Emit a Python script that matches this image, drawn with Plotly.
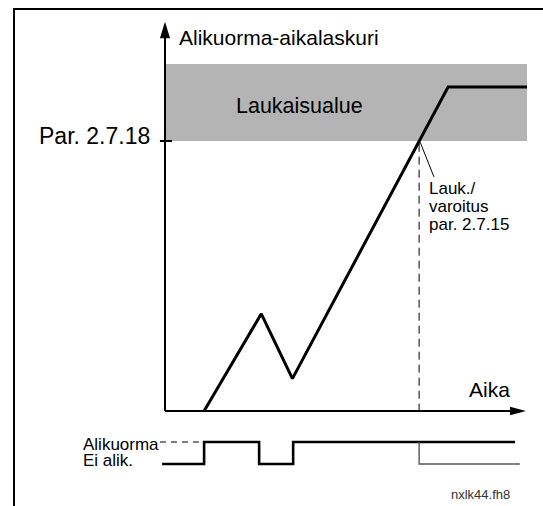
import plotly.graph_objects as go

# ---- data (semantic units: time 0..100, counter 0..~140, signal 0/1) ----
counter_time = [10.8, 26.6, 35.2, 78.2, 100.0]
counter_value = [0, 36, 12, 120, 120]
trip_level = 100          # Par. 2.7.18
band_top = 128.5          # top of trip area
trip_time = 70.2          # point where counter reaches trip level

signal_time = [-0.8, 10.8, 26.0, 35.4, 96.7]
signal_value = [0, 1, 0, 1, 1]
after_trip_time = [70.2, 98.0]
after_trip_value = [1, 0]
dashed_high_time = [-1.4, 10.8]
dashed_high_value = [1, 1]

W, H = 543, 506
FONT = "Liberation Sans, Arial, sans-serif"

# pixel mapping for layout (axis ranges)
X0PX, XSCALE = 165.0, 3.62     # t=0 at px 165, px per unit
Y0PX, YSCALE = 411.0, 2.70     # counter 0 at px 411
S0PX, SSCALE = 464.0, 22.0     # signal 0 at px 464

xr = [-X0PX / XSCALE, (W - X0PX) / XSCALE]
yr = [-(H - Y0PX) / YSCALE, Y0PX / YSCALE]
y2r = [-(H - S0PX) / SSCALE, S0PX / SSCALE]


def px(x):
    return x / W


def py(y):
    return 1 - y / H


fig = go.Figure()

# counter line
fig.add_trace(go.Scatter(x=counter_time, y=counter_value, mode="lines",
                         line=dict(color="black", width=3), hoverinfo="skip"))

# signal lines
fig.add_trace(go.Scatter(x=signal_time, y=signal_value, mode="lines", yaxis="y2",
                         line=dict(color="black", width=2.6, shape="hv"), hoverinfo="skip"))
fig.add_trace(go.Scatter(x=after_trip_time, y=after_trip_value, mode="lines", yaxis="y2",
                         line=dict(color="#555555", width=1.4, shape="vh"), hoverinfo="skip"))
fig.add_trace(go.Scatter(x=dashed_high_time, y=dashed_high_value, mode="lines", yaxis="y2",
                         line=dict(color="black", width=1, dash="6px,5px"), hoverinfo="skip"))

shapes = []
# trip area band
shapes.append(dict(type="rect", xref="x", yref="y", x0=0, x1=100, y0=trip_level, y1=band_top,
                   fillcolor="#b4b4b4", line=dict(width=0), layer="below"))
# y axis
shapes.append(dict(type="line", xref="x", yref="y", x0=0, x1=0, y0=0, y1=138.5,
                   line=dict(color="black", width=2)))
shapes.append(dict(type="path", xref="x", yref="y",
                   path="M -1.4,138.1 L 1.4,138.1 L 0,144.2 Z",
                   fillcolor="black", line=dict(color="black", width=0)))
# x axis
shapes.append(dict(type="line", xref="x", yref="y", x0=0, x1=95.5, y0=0, y1=0,
                   line=dict(color="black", width=2)))
shapes.append(dict(type="path", xref="x", yref="y",
                   path="M 95.3,1.6 L 95.3,-1.6 L 99.7,0 Z",
                   fillcolor="black", line=dict(color="black", width=0)))
# tick at trip level
shapes.append(dict(type="line", xref="x", yref="y", x0=-1.4, x1=1.9, y0=trip_level, y1=trip_level,
                   line=dict(color="black", width=2)))
# dashed vertical at trip time
shapes.append(dict(type="line", xref="x", yref="y", x0=trip_time, x1=trip_time, y0=99, y1=-1.5,
                   line=dict(color="black", width=1, dash="8px,5px")))
# pointer to label
shapes.append(dict(type="line", xref="x", yref="y", x0=trip_time + 0.3, x1=74.3, y0=99.5, y1=86.7,
                   line=dict(color="black", width=1)))
# frame
shapes.append(dict(type="line", xref="paper", yref="paper", x0=px(13), x1=px(543), y0=py(9), y1=py(9),
                   line=dict(color="black", width=2)))
shapes.append(dict(type="line", xref="paper", yref="paper", x0=px(14), x1=px(14), y0=py(8), y1=py(506),
                   line=dict(color="black", width=2)))


def label(text, x, y, size, anchor="left", color="black"):
    return dict(text=text, xref="paper", yref="paper", x=px(x), y=py(y), xanchor=anchor,
                yanchor="middle", showarrow=False, font=dict(family=FONT, size=size, color=color))


annotations = [
    label("Alikuorma-aikalaskuri", 177, 37, 21),
    label("Laukaisualue", 234, 106, 21.5),
    label("Par. 2.7.18", 152, 136, 23, anchor="right"),
    label("Aika", 467, 389, 21),
    label("Lauk./", 427, 188, 17),
    label("varoitus", 427, 206, 17),
    label("par. 2.7.15", 427, 224, 17),
    label("Alikuorma", 81, 444, 17),
    label("Ei alik.", 81, 460, 17),
    label("nxlk44.fh8", 449, 494, 13, color="#333333"),
]

axis_common = dict(visible=False, showgrid=False, zeroline=False, fixedrange=True)
fig.update_layout(
    width=W, height=H, margin=dict(l=0, r=0, t=0, b=0),
    paper_bgcolor="white", plot_bgcolor="white", showlegend=False,
    xaxis=dict(range=xr, domain=[0, 1], **axis_common),
    yaxis=dict(range=yr, domain=[0, 1], **axis_common),
    yaxis2=dict(range=y2r, domain=[0, 1], overlaying="y", **axis_common),
    shapes=shapes, annotations=annotations, hovermode=False,
)

fig.write_html("out.html", config=dict(displayModeBar=False, staticPlot=True),
               post_script="document.body.style.margin='0';document.body.style.padding='0';"
                           "document.body.style.overflow='hidden';")
